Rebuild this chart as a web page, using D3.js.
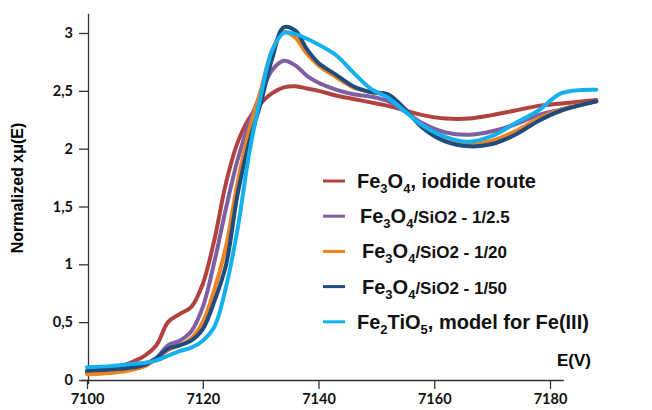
<!DOCTYPE html>
<html>
<head>
<meta charset="utf-8">
<script src="https://cdn.jsdelivr.net/npm/d3@7"></script>
<style>
  body { margin: 0; background: #fff; }
  svg { display: block; }
  .tick text { font-family: Lato, 'Liberation Sans', sans-serif; font-weight: 700; font-size: 14.5px; fill: #111; }
  .legend text { font-family: 'Liberation Sans', Arial, sans-serif; font-weight: 700; fill: #111; }
</style>
</head>
<body>
<svg width="652" height="410"></svg>
<script>
// energy grid (eV) shared by all spectra
var energy = [7100, 7104, 7108, 7110, 7112, 7114, 7116, 7118, 7120, 7122, 7124, 7126, 7128, 7130,
  7132, 7134, 7136, 7138, 7140, 7143, 7146, 7149, 7152, 7155, 7158, 7162, 7166, 7170, 7174, 7178, 7182, 7188];

var iodide = [0.07, 0.09, 0.16, 0.21, 0.30, 0.50, 0.57, 0.63, 0.83, 1.21, 1.70, 2.05, 2.26, 2.39,
  2.48, 2.53, 2.54, 2.52, 2.50, 2.46, 2.43, 2.40, 2.37, 2.33, 2.29, 2.26, 2.26, 2.29, 2.33, 2.37, 2.39, 2.42];
var sio2_2_5 = [0.07, 0.08, 0.11, 0.14, 0.19, 0.30, 0.34, 0.42, 0.63, 1.02, 1.48, 1.90, 2.22, 2.47,
  2.68, 2.76, 2.72, 2.63, 2.57, 2.51, 2.47, 2.45, 2.41, 2.32, 2.22, 2.14, 2.12, 2.15, 2.21, 2.29, 2.34, 2.41];
var sio2_20 = [0.05, 0.06, 0.09, 0.12, 0.18, 0.26, 0.30, 0.36, 0.50, 0.78, 1.15, 1.70, 2.15, 2.50,
  2.85, 3.01, 2.96, 2.82, 2.72, 2.62, 2.53, 2.49, 2.46, 2.34, 2.19, 2.07, 2.04, 2.07, 2.15, 2.26, 2.34, 2.41];
var sio2_50 = [0.08, 0.09, 0.11, 0.13, 0.19, 0.27, 0.30, 0.34, 0.44, 0.68, 0.99, 1.60, 2.05, 2.39,
  2.78, 3.05, 3.02, 2.86, 2.74, 2.64, 2.54, 2.49, 2.47, 2.34, 2.18, 2.06, 2.02, 2.04, 2.12, 2.24, 2.33, 2.41];
var fe2tio5 = [0.11, 0.12, 0.14, 0.15, 0.17, 0.21, 0.25, 0.28, 0.34, 0.46, 0.80, 1.30, 1.95, 2.45,
  2.85, 3.00, 2.99, 2.95, 2.90, 2.81, 2.66, 2.52, 2.44, 2.32, 2.20, 2.10, 2.06, 2.11, 2.22, 2.33, 2.48, 2.51];

var xTicks = [7100, 7120, 7140, 7160, 7180];
var yTicks = [0, 0.5, 1, 1.5, 2, 2.5, 3];

var series = [
  { name: 'iodide', values: iodide, color: '#b0423f' },
  { name: '1/2.5', values: sio2_2_5, color: '#7e5fa2' },
  { name: '1/20', values: sio2_20, color: '#f08220' },
  { name: '1/50', values: sio2_50, color: '#1f4b7e' },
  { name: 'Fe2TiO5', values: fe2tio5, color: '#14b1ee' }
];

var svg = d3.select('svg');

var x = d3.scaleLinear().domain([7100, 7180]).range([87, 550]);
var y = d3.scaleLinear().domain([0, 3]).range([380, 33]);

// axes (domain lines run a little past the last tick, like the original)
var xAxisScale = x.copy().domain([7099, 7182.3]).range([x(7099), x(7182.3)]);
var yAxisScale = y.copy().domain([-0.03, 3.17]).range([y(-0.03), y(3.17)]);

var fmt = function(d) { return String(d).replace('.', ','); };

var gx = svg.append('g')
  .attr('transform', 'translate(0,' + y(0) + ')')
  .call(d3.axisBottom(xAxisScale).tickValues(xTicks).tickSize(9).tickSizeOuter(0).tickPadding(5).tickFormat(d3.format('d')));
gx.select('.domain').attr('stroke', '#333').attr('stroke-width', 1.3);
gx.selectAll('.tick line').attr('stroke', '#333').attr('stroke-width', 1.3);

var gy = svg.append('g')
  .attr('transform', 'translate(' + (x(7100) + 1) + ',0)')
  .call(d3.axisLeft(yAxisScale).tickValues(yTicks).tickSize(9).tickSizeOuter(0).tickPadding(6).tickFormat(fmt));
gy.select('.domain').attr('stroke', '#333').attr('stroke-width', 1.3);
gy.selectAll('.tick line').attr('stroke', '#333').attr('stroke-width', 1.3);

svg.append('text')
  .attr('transform', 'translate(23,188) rotate(-90)')
  .attr('text-anchor', 'middle')
  .style('font-family', "'Liberation Sans', Arial, sans-serif")
  .style('font-weight', 700)
  .style('font-size', '16px')
  .text('Normalized x\u03bc(E)');

svg.append('text')
  .attr('x', 557)
  .attr('y', 366)
  .style('font-family', "'Liberation Sans', Arial, sans-serif")
  .style('font-weight', 700)
  .style('font-size', '17px')
  .text('E(V)');

var line = d3.line()
  .x(function(d, i) { return x(energy[i]); })
  .y(function(d) { return y(d); })
  .curve(d3.curveCatmullRom.alpha(0.5));

svg.append('g')
  .selectAll('path')
  .data(series)
  .enter()
  .append('path')
  .attr('d', function(d) { return line(d.values); })
  .attr('fill', 'none')
  .attr('stroke', function(d) { return d.color; })
  .attr('stroke-width', 4)
  .attr('stroke-linejoin', 'round')
  .attr('stroke-linecap', 'round');

// legend: [text, font size, subscript?]
var legendRows = [
  [['Fe', 20], ['3', 13, 1], ['O', 20], ['4', 13, 1], [', iodide route', 20]],
  [['Fe', 20], ['3', 13, 1], ['O', 20], ['4', 13, 1], ['/SiO2 - 1/2.5', 17]],
  [['Fe', 20], ['3', 13, 1], ['O', 20], ['4', 13, 1], ['/SiO2 - 1/20', 17]],
  [['Fe', 20], ['3', 13, 1], ['O', 20], ['4', 13, 1], ['/SiO2 - 1/50', 17]],
  [['Fe', 20], ['2', 13, 1], ['TiO', 20], ['5', 13, 1], [', model for Fe(III)', 20]]
];
var legendTextX = [357, 360, 362, 362, 357];

var legend = svg.append('g').attr('class', 'legend');
legendRows.forEach(function(row, i) {
  var cy = 181 + i * 35.2;
  legend.append('line')
    .attr('x1', 323).attr('x2', 345)
    .attr('y1', cy).attr('y2', cy)
    .attr('stroke', series[i].color)
    .attr('stroke-width', 3);
  var t = legend.append('text')
    .attr('x', legendTextX[i])
    .attr('y', cy + 7);
  var shift = 0;
  row.forEach(function(part) {
    var target = part[2] ? 5 : 0;
    t.append('tspan')
      .attr('dy', target - shift)
      .style('font-size', part[1] + 'px')
      .text(part[0]);
    shift = target;
  });
});
</script>
</body>
</html>
